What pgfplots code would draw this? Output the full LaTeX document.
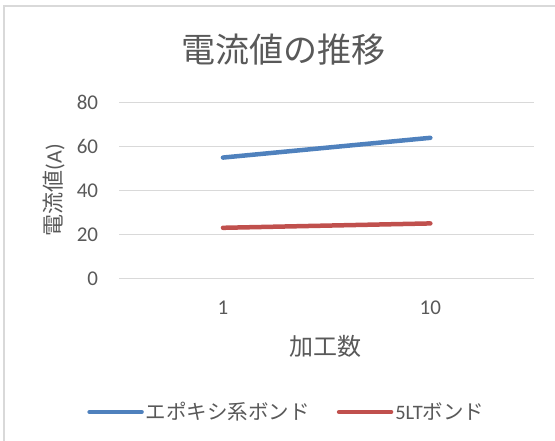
\documentclass[border=0pt]{standalone}
\usepackage{fontspec}
\setmainfont{Carlito}
\newfontfamily\jp{Noto Sans CJK JP}
\usepackage{pgfplots}
\pgfplotsset{compat=1.18}

\definecolor{txt}{HTML}{595959}
\definecolor{gridc}{HTML}{D9D9D9}
\definecolor{blueline}{HTML}{4F81BD}
\definecolor{redline}{HTML}{C0504D}

\begin{document}
\begin{tikzpicture}
    \useasboundingbox (0pt,0pt) rectangle (555pt,441pt);
    % chart frame (only top and left edges are visible in the crop)
    \draw[gridc, line width=1.5pt] (4pt,0pt) -- (4pt,435pt) -- (555pt,435pt);

    \begin{axis}[
        at={(119.3pt,162.7pt)}, anchor=south west,
        scale only axis, width=414.7pt, height=175.6pt,
        xmin=0.5, xmax=2.5, ymin=0, ymax=80,
        xtick={1,2}, xticklabels={1,10},
        ytick={0,20,40,60,80},
        ymajorgrids, grid style={gridc, line width=1.2pt},
        axis line style={draw=none}, tick style={draw=none},
        /pgf/number format/assume math mode=true,
        ticklabel style={font=\fontsize{21}{25}\selectfont, text=txt},
        yticklabel style={inner sep=0pt, xshift=-21pt},
        xticklabel style={inner sep=0pt, yshift=-22pt},
        legend style={at={(0.404,-0.761)}, anchor=center, draw=none,
            legend columns=2, font=\fontsize{20.5}{24}\selectfont, text=txt,
            /tikz/every even column/.append style={column sep=25pt}},
        legend image code/.code={\draw[#1] (0pt,0pt) -- (52pt,0pt);},
    ]
        \addplot[blueline, line width=4.5pt, line cap=round] coordinates {(1,55) (2,64)};
        \addlegendentry{\jp エポキシ系ボンド}
        \addplot[redline, line width=4.5pt, line cap=round] coordinates {(1,23) (2,25)};
        \addlegendentry{5LT{\jp ボンド}}
    \end{axis}

    \node[text=txt, font=\jp\fontsize{34}{40}\selectfont] at (283.5pt,391.5pt) {電流値の推移};
    \node[text=txt, rotate=90, font=\fontsize{22}{26}\selectfont] at (54pt,251pt) {{\jp 電流値}(A)};
    \node[text=txt, font=\jp\fontsize{24}{28}\selectfont] at (325.5pt,94.3pt) {加工数};
\end{tikzpicture}
\end{document}
